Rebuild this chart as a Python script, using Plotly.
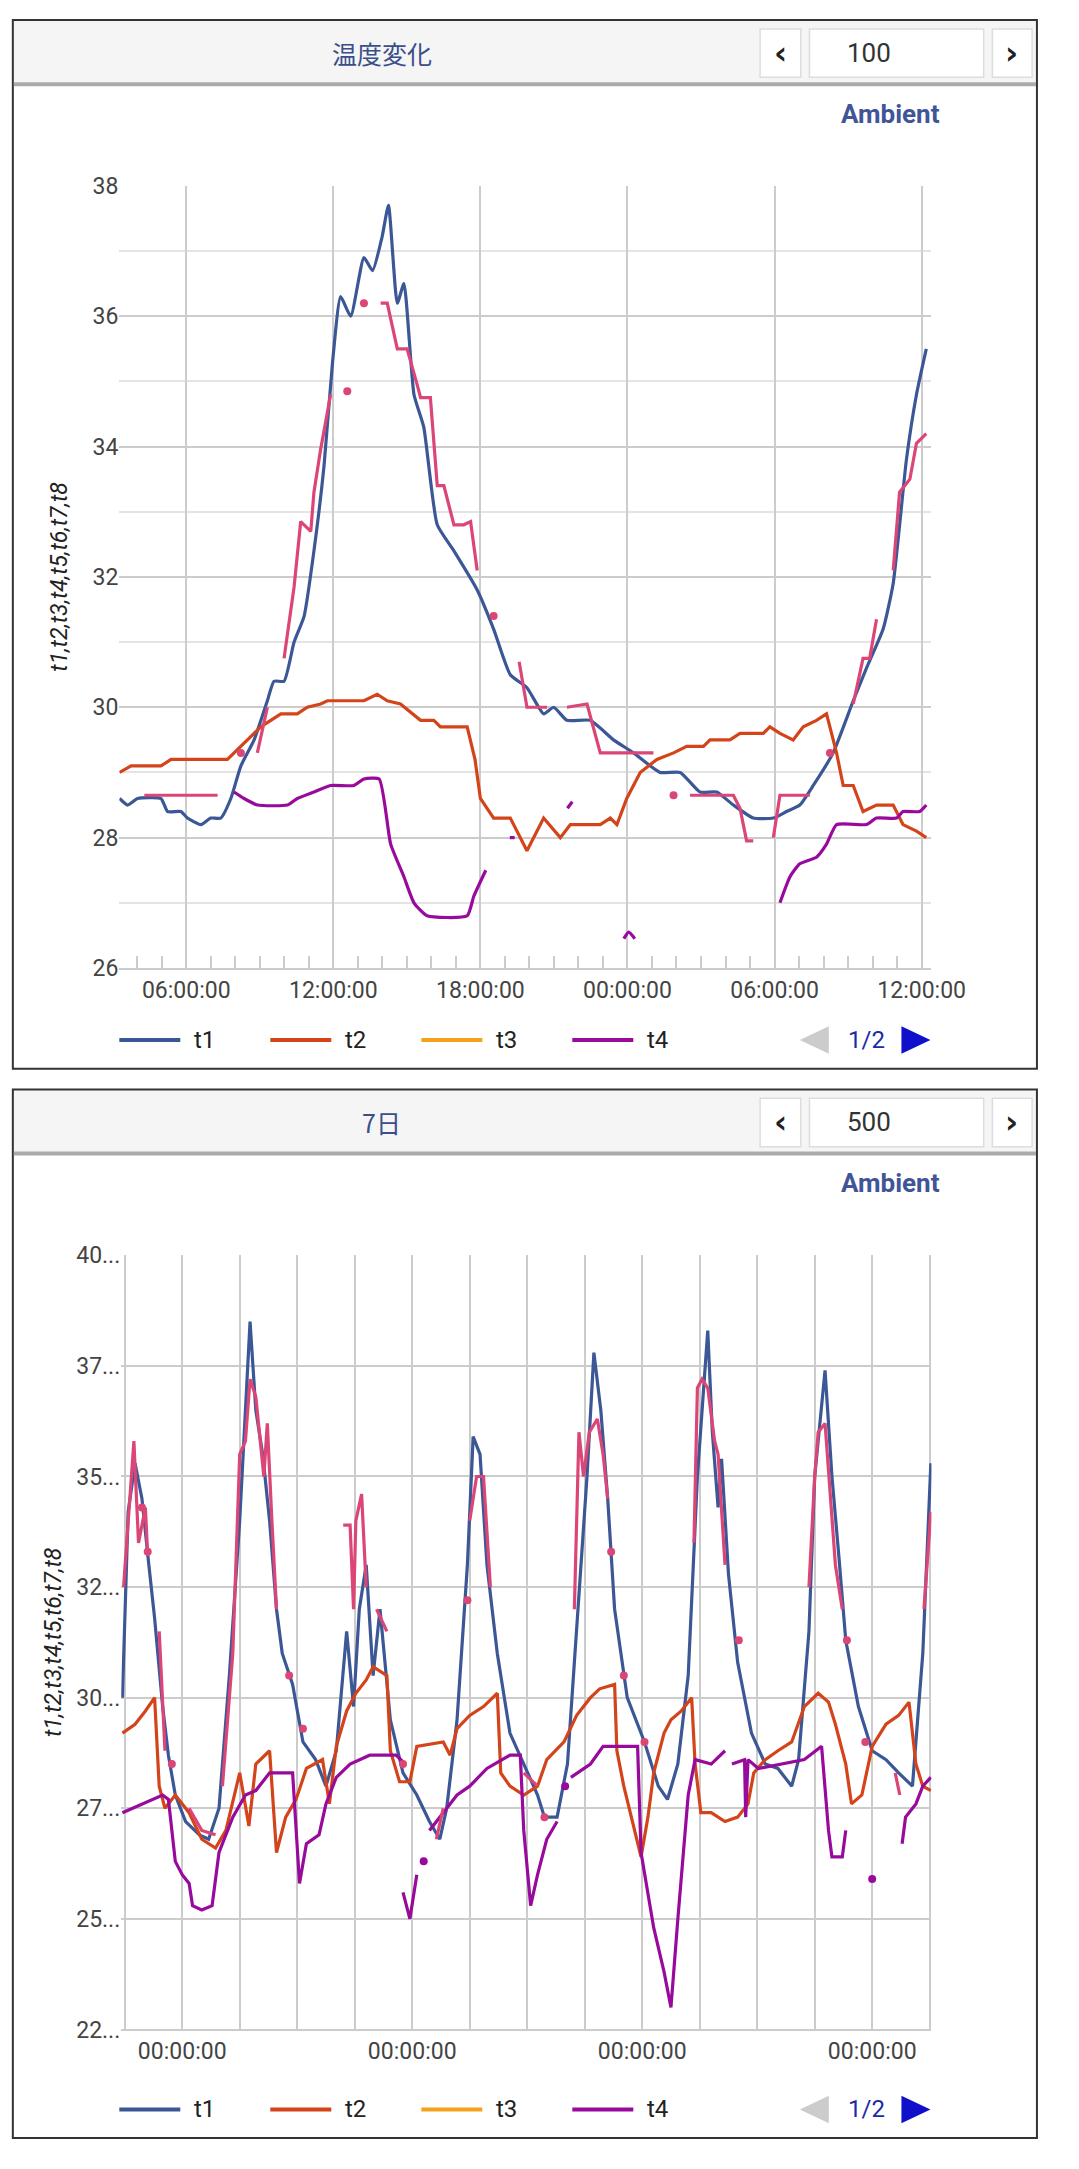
import plotly.graph_objects as go
import pandas as pd

N = None

# ---- top chart (hours from day start) ----
top_base = pd.Timestamp("2023-07-16 00:00")
t1_h = [3.28, 3.61, 4.02, 4.97, 5.24, 5.78, 6.05, 6.6, 7.0, 7.41, 7.82, 8.23, 8.77, 9.31, 9.58, 9.99, 10.4, 10.81, 11.21, 11.62,
        11.97, 12.3, 12.71, 13.25, 13.6, 13.98, 14.25, 14.61, 14.88, 15.29, 15.69, 16.24, 16.92, 17.87, 18.54, 19.22, 19.9, 20.58,
        20.99, 21.53, 22.48, 23.43, 24.25, 25.33, 26.15, 26.96, 27.64, 28.32, 29.13, 29.95, 30.49, 31.03, 31.58, 32.39, 33.21,
        33.75, 34.43, 34.84, 35.38, 35.79, 36.19]
t1_v = [28.6, 28.5, 28.6, 28.6, 28.4, 28.4, 28.3, 28.2, 28.3, 28.3, 28.6, 29.1, 29.5, 30.1, 30.4, 30.4, 31.0, 31.4, 32.4, 33.7,
        35.3, 36.3, 36.0, 36.9, 36.7, 37.2, 37.7, 36.2, 36.5, 34.8, 34.3, 32.8, 32.4, 31.8, 31.2, 30.5, 30.3, 29.9,
        30.0, 29.8, 29.8, 29.5, 29.3, 29.0, 29.0, 28.7, 28.7, 28.5, 28.3, 28.3, 28.4, 28.5, 28.8, 29.3, 30.1,
        30.6, 31.2, 31.9, 33.8, 34.8, 35.5]
t2_h = [3.28, 3.75, 4.97, 5.38, 7.68, 8.23, 9.04, 9.86, 10.53, 10.94, 11.48, 11.76, 13.25, 13.79, 14.2, 14.74, 15.56, 16.1,
        16.37, 17.46, 17.78, 18.0, 18.54, 19.22, 19.9, 20.58, 21.26, 21.67, 22.89, 23.3, 23.57, 23.97, 24.52, 25.2, 25.88,
        26.42, 27.1, 27.37, 28.18, 28.59, 29.54, 29.81, 30.22, 30.76, 31.17, 31.71, 32.12, 32.53, 32.8, 33.21, 33.61, 34.16,
        34.84, 35.24, 35.79, 36.19]
t2_v = [29.0, 29.1, 29.1, 29.2, 29.2, 29.4, 29.7, 29.9, 29.9, 30.0, 30.05, 30.1, 30.1, 30.2, 30.1, 30.05, 29.8, 29.8,
        29.7, 29.7, 29.2, 28.6, 28.3, 28.3, 27.8, 28.3, 28.0, 28.2, 28.2, 28.3, 28.2, 28.6, 29.0, 29.2, 29.3,
        29.4, 29.4, 29.5, 29.5, 29.6, 29.6, 29.7, 29.6, 29.5, 29.7, 29.8, 29.9, 29.3, 28.8, 28.8, 28.4, 28.5,
        28.5, 28.2, 28.1, 28.0]
t4_h = [7.95, 8.36, 8.91, 10.13, 10.53, 11.21, 11.89, 12.84, 13.25, 13.87, 14.34, 14.88, 15.29, 15.83, 17.46, 17.73, 18.22, N,
        19.2, 19.4, N, 21.55, 21.75, N, 23.85, 24.05, 24.3, N,
        30.22, 30.63, 31.03, 31.71, 32.12, 32.53, 33.75, 34.16, 34.98, 35.24, 35.92, 36.19]
t4_v = [28.7, 28.6, 28.5, 28.5, 28.6, 28.7, 28.8, 28.8, 28.9, 28.9, 27.9, 27.4, 27.0, 26.8, 26.8, 27.1, 27.5, N,
        28.0, 28.0, N, 28.45, 28.55, N, 26.45, 26.55, 26.45, N,
        27.0, 27.4, 27.6, 27.7, 27.9, 28.2, 28.2, 28.3, 28.3, 28.4, 28.4, 28.5]
t5_h = [4.29, 7.28, N, 8.9, 9.31, N, 9.99, 10.4, 10.67, 11.08, 11.21, 11.48, 11.89, N,
        13.93, 14.2, 14.61, 15.01, 15.42, 15.56, 15.96, 16.24, 16.51, 16.92, 17.32, 17.6, 17.87, N,
        19.58, 19.9, 20.72, N, 21.53, 22.35, 22.89, 25.06, N, 26.55, 28.32, 28.59, 28.86, 29.13, N,
        29.95, 30.22, 31.44, N, 33.21, 33.61, 33.88, 34.16, N, 34.84, 35.1, 35.52, 35.79, 36.19]
t5_v = [28.65, 28.65, N, 29.3, 30.0, N, 30.75, 31.85, 32.85, 32.7, 33.3, 33.95, 34.8, N,
        36.2, 36.2, 35.5, 35.5, 34.95, 34.75, 34.75, 33.4, 33.4, 32.8, 32.8, 32.85, 32.1, N,
        30.7, 30.0, 30.0, N, 30.0, 30.05, 29.3, 29.3, N, 28.65, 28.65, 28.45, 27.95, 27.95, N,
        28.0, 28.65, 28.65, N, 30.05, 30.75, 30.75, 31.35, N, 32.1, 33.3, 33.5, 34.05, 34.2]
t5_dot_h = [8.23, 12.57, 13.25, 18.54, 25.88, 32.26]
t5_dot_v = [29.3, 34.85, 36.2, 31.4, 28.65, 29.3]

# ---- bottom chart (days from first midnight) ----
bot_base = pd.Timestamp("2023-07-10 00:00")
b1_d = [-0.52, -0.47, -0.41, -0.35, -0.29, -0.24, -0.17, -0.12, -0.06, 0.03, 0.15, 0.23, 0.32, 0.41, 0.50, 0.55, 0.59, 0.64,
        0.70, 0.76, 0.82, 0.87, 0.96, 1.05, 1.16, 1.25, 1.34, 1.43, 1.49, 1.54, 1.60, 1.66, 1.72, 1.81, 1.92, 2.04, 2.15,
        2.24, 2.30, 2.39, 2.48, 2.53, 2.59, 2.65, 2.74, 2.85, 2.97, 3.09, 3.15, 3.26, 3.35, 3.43, 3.52, 3.58, 3.64, 3.70,
        3.76, 3.87, 4.02, 4.14, 4.22, 4.31, 4.40, 4.48, 4.54, 4.57, 4.61, 4.66, 4.69, 4.75, 4.83, 4.95, 5.07, 5.18, 5.30,
        5.36, 5.45, 5.50, 5.59, 5.65, 5.71, 5.77, 5.88, 6.00, 6.12, 6.23, 6.35, 6.44, 6.51]
b1_v = [30.0, 34.2, 35.3, 34.5, 33.0, 31.8, 29.8, 28.7, 27.8, 27.2, 26.9, 26.8, 27.5, 30.5, 34.0, 36.5, 38.5, 36.5,
        35.5, 34.0, 32.0, 31.0, 30.3, 29.0, 28.6, 28.0, 28.8, 31.5, 29.8, 32.0, 33.0, 30.5, 32.0, 29.5, 28.3, 27.8, 27.2,
        26.8, 27.5, 29.5, 33.0, 35.9, 35.5, 33.0, 31.0, 29.2, 28.5, 27.8, 27.3, 27.3, 28.5, 31.5, 35.0, 37.8, 36.5, 34.5,
        32.0, 30.0, 29.0, 28.0, 27.7, 28.5, 30.5, 35.0, 37.2, 38.3, 36.0, 34.3, 35.4, 32.8, 30.8, 29.2, 28.5, 28.4, 28.0,
        28.6, 31.5, 35.0, 37.4, 35.0, 33.2, 31.3, 29.8, 28.8, 28.6, 28.3, 28.0, 31.0, 35.3]
b2_d = [-0.52, -0.41, -0.32, -0.24, -0.20, -0.15, -0.06, 0.06, 0.17, 0.29, 0.38, 0.50, 0.58, 0.64, 0.76, 0.82, 0.90, 0.99,
        1.08, 1.22, 1.28, 1.34, 1.43, 1.51, 1.60, 1.66, 1.78, 1.81, 1.89, 1.98, 2.04, 2.27, 2.33, 2.39, 2.50, 2.62, 2.74,
        2.77, 2.85, 2.97, 3.09, 3.17, 3.32, 3.43, 3.55, 3.63, 3.76, 3.78, 3.84, 3.93, 3.99, 4.05, 4.10, 4.19, 4.25, 4.34,
        4.43, 4.46, 4.51, 4.60, 4.72, 4.83, 4.92, 4.97, 5.07, 5.18, 5.30, 5.41, 5.53, 5.62, 5.68, 5.77, 5.82, 5.91, 6.00,
        6.12, 6.23, 6.32, 6.38, 6.44, 6.51]
b2_v = [29.2, 29.4, 29.7, 30.0, 28.0, 27.5, 27.8, 27.4, 26.8, 26.6, 27.0, 28.3, 27.1, 28.5, 28.8, 26.5, 27.3, 27.7,
        28.4, 28.6, 27.6, 28.9, 29.7, 30.1, 30.4, 30.7, 30.5, 28.8, 28.1, 28.1, 28.9, 29.0, 28.7, 29.3, 29.6, 29.8, 30.1,
        28.3, 28.0, 27.8, 28.0, 28.6, 29.0, 29.6, 30.0, 30.2, 30.3, 28.8, 28.0, 27.0, 26.4, 27.3, 28.3, 29.2, 29.5, 29.7,
        30.0, 28.5, 27.4, 27.4, 27.2, 27.3, 27.6, 28.3, 28.6, 28.8, 29.0, 29.8, 30.1, 29.9, 29.4, 28.5, 27.6, 27.8, 28.9,
        29.4, 29.6, 29.9, 28.5, 28.0, 27.9]
b4_d = [-0.52, -0.35, -0.17, -0.12, -0.06, 0.0, 0.06, 0.09, 0.17, 0.26, 0.32, 0.44, 0.55, 0.64, 0.76, 0.96, 1.02, 1.08,
        1.19, 1.25, 1.34, 1.46, 1.63, 1.86, 1.92, N,
        1.92, 1.98, 2.04, N, 2.15, 2.39, 2.50, 2.65, 2.85, 2.94, 2.97, 3.03, 3.09, 3.17, 3.26, N,
        3.38, 3.55, 3.66, 3.96, 3.99, 4.10, 4.19, 4.25, 4.31, 4.40, 4.46, 4.60, 4.72, N, 4.78, 4.89, 4.90, 4.92, 5.01, 5.41,
        5.56, 5.62, 5.65, 5.74, 5.77, N, 6.26, 6.29, 6.38, 6.44, 6.51]
b4_v = [27.4, 27.6, 27.8, 27.7, 26.3, 26.0, 25.8, 25.3, 25.2, 25.3, 26.5, 27.3, 27.8, 27.9, 28.3, 28.3, 25.8, 26.7,
        26.9, 27.6, 28.2, 28.5, 28.7, 28.7, 28.55, N,
        25.6, 25.0, 26.0, N, 27.0, 27.8, 28.0, 28.4, 28.7, 28.7, 27.0, 25.3, 26.0, 26.8, 27.2, N,
        28.2, 28.5, 28.9, 28.9, 26.5, 24.8, 23.8, 23.0, 25.0, 27.8, 28.6, 28.5, 28.8, N, 28.5, 28.6, 27.3, 28.6, 28.4, 28.6,
        28.9, 27.0, 26.4, 26.4, 27.0, N, 26.7, 27.3, 27.6, 28.0, 28.2]
b4_dot_d = [2.10, 3.33, 6.00]
b4_dot_v = [26.3, 28.0, 25.9]
b5_d = [-0.51, -0.47, -0.42, -0.38, -0.32, -0.30, N, -0.20, -0.15, N, 0.06, 0.17, 0.29, N,
        0.35, 0.44, 0.50, 0.55, 0.59, 0.64, 0.71, 0.74, 0.78, 0.82, N,
        1.40, 1.46, 1.49, 1.51, 1.56, 1.60, N, 1.69, 1.78, N, 2.21, 2.27, N,
        2.50, 2.56, 2.62, 2.68, N, 2.97, 3.09, N,
        3.41, 3.45, 3.49, 3.54, 3.61, 3.66, 3.70, N,
        4.45, 4.48, 4.52, 4.57, 4.63, 4.66, 4.72, N,
        5.45, 5.50, 5.53, 5.59, 5.68, 5.74, N, 6.20, 6.24, N, 6.45, 6.51]
b5_v = [32.5, 34.0, 35.8, 33.5, 34.3, 33.2, N, 31.5, 28.8, N, 27.5, 27.0, 26.9, N,
        28.0, 31.0, 35.5, 35.8, 37.2, 36.8, 35.0, 36.2, 34.0, 32.0, N,
        33.9, 33.9, 32.0, 34.0, 34.6, 32.5, N, 32.0, 31.5, N, 26.8, 27.5, N,
        34.0, 35.0, 35.0, 32.5, N, 28.3, 28.0, N,
        32.0, 36.0, 35.0, 36.0, 36.3, 35.5, 34.5, N,
        33.5, 37.0, 37.2, 37.0, 35.8, 35.5, 33.0, N,
        32.5, 35.0, 36.0, 36.2, 33.0, 32.0, N, 28.3, 27.8, N, 32.0, 34.2]
b5_dot_d = [-0.35, -0.30, -0.09, 0.93, 1.05, 1.92, 2.48, 3.15, 3.73, 3.84, 4.02, 4.84, 5.78, 5.94]
b5_dot_v = [34.3, 33.3, 28.5, 30.5, 29.3, 28.5, 32.2, 27.3, 33.3, 30.5, 29.0, 31.3, 31.3, 29.0]

C1, C2, C3, C4, C5 = "#3b5796", "#d4441a", "#f4a11c", "#980a9c", "#db4677"
O = 8            # page body margin
W, H = 1061, 2151


def px(x):
    return (x - O) / W


def py(y):
    return 1 - (y - O) / H


def tx(base, vals, unit):
    return [None if v is None else base + pd.Timedelta(v, unit=unit) for v in vals]


fig = go.Figure()
lw = 3.2
top = [(t1_h, t1_v, C1, "spline"), (t2_h, t2_v, C2, "linear"), (t4_h, t4_v, C4, "spline"), (t5_h, t5_v, C5, "linear")]
for xs, ys, c, shp in top:
    fig.add_trace(go.Scatter(x=tx(top_base, xs, "h"), y=ys, mode="lines",
                             line=dict(color=c, width=lw, shape=shp, smoothing=0.5),
                             connectgaps=False, xaxis="x", yaxis="y", showlegend=False))
fig.add_trace(go.Scatter(x=tx(top_base, t5_dot_h, "h"), y=t5_dot_v, mode="markers", marker=dict(color=C5, size=8),
                         xaxis="x", yaxis="y", showlegend=False))
bot = [(b1_d, b1_v, C1), (b2_d, b2_v, C2), (b4_d, b4_v, C4), (b5_d, b5_v, C5)]
for xs, ys, c in bot:
    fig.add_trace(go.Scatter(x=tx(bot_base, xs, "D"), y=ys, mode="lines", line=dict(color=c, width=lw),
                             connectgaps=False, xaxis="x2", yaxis="y2", showlegend=False))
fig.add_trace(go.Scatter(x=tx(bot_base, b4_dot_d, "D"), y=b4_dot_v, mode="markers", marker=dict(color=C4, size=8),
                         xaxis="x2", yaxis="y2", showlegend=False))
fig.add_trace(go.Scatter(x=tx(bot_base, b5_dot_d, "D"), y=b5_dot_v, mode="markers", marker=dict(color=C5, size=8),
                         xaxis="x2", yaxis="y2", showlegend=False))

tickfont = dict(family="Roboto", size=23, color="#444")
grid = "#cccccc"
ytitle = dict(text="<i>t1,t2,t3,t4,t5,t6,t7,t8</i>", font=dict(family="Roboto", size=23, color="#222"))

top_lbl = [6, 12, 18, 24, 30, 36]
fig.update_layout(
    width=W, height=H, margin=dict(l=0, r=0, t=0, b=0), plot_bgcolor="white", paper_bgcolor="white",
    xaxis=dict(domain=[px(123), px(962)], anchor="y",
               range=[top_base + pd.Timedelta(3.27, unit="h"), top_base + pd.Timedelta(36.4, unit="h")],
               tickvals=tx(top_base, top_lbl, "h"), tickformat="%H:%M:%S", showgrid=True, gridcolor=grid,
               gridwidth=2, tickfont=tickfont, showline=True, linecolor=grid, linewidth=2,
               ticks="inside", ticklen=14, tickcolor=grid, tickwidth=2,
               minor=dict(dtick=3600000, ticks="inside", ticklen=12, tickcolor=grid, tickwidth=2, showgrid=False)),
    yaxis=dict(domain=[py(967), py(175)], anchor="x", range=[26, 38], dtick=2, showgrid=True,
               gridcolor=grid, gridwidth=2, tickfont=tickfont, zeroline=False,
               minor=dict(dtick=1, showgrid=True, gridcolor="#e4e4e4", gridwidth=2),
               title=dict(ytitle, standoff=18)),
    xaxis2=dict(domain=[px(125), px(962)], anchor="y2",
                range=[bot_base - pd.Timedelta(0.53, unit="D"), bot_base + pd.Timedelta(6.515, unit="D")],
                tickvals=tx(bot_base, [0, 2, 4, 6], "D"), tickformat="%H:%M:%S", showgrid=True, gridcolor=grid,
                gridwidth=2, tickfont=tickfont, showline=True, linecolor=grid, linewidth=2,
                minor=dict(dtick=43200000, showgrid=True, gridcolor=grid, gridwidth=2)),
    yaxis2=dict(domain=[py(2042), py(1258)], anchor="x2", range=[22.5, 40],
                tickvals=[22.5, 25, 27.5, 30, 32.5, 35, 37.5, 40],
                ticktext=["22...", "25...", "27...", "30...", "32...", "35...", "37...", "40..."],
                showgrid=True, gridcolor=grid, gridwidth=2, tickfont=tickfont, zeroline=False,
                title=dict(ytitle, standoff=8)),
)

shapes, ann = [], []


def tri(x_base, x_tip, yc, color):
    return dict(type="path", xref="paper", yref="paper",
                path=f"M {px(x_base)} {py(yc - 14)} L {px(x_base)} {py(yc + 14)} L {px(x_tip)} {py(yc)} Z",
                fillcolor=color, line=dict(width=0))


def panel(y0, title, num):
    # frame and header
    shapes.append(dict(type="rect", xref="paper", yref="paper", x0=px(13), x1=px(1071), y0=py(y0 + 1062),
                       y1=py(y0), line=dict(color="#333", width=2), fillcolor="rgba(0,0,0,0)"))
    shapes.append(dict(type="rect", xref="paper", yref="paper", x0=px(14), x1=px(1070), y0=py(y0 + 63),
                       y1=py(y0 + 1), line=dict(width=0), fillcolor="#f5f5f5", layer="below"))
    shapes.append(dict(type="line", xref="paper", yref="paper", x0=px(14), x1=px(1070), y0=py(y0 + 65),
                       y1=py(y0 + 65), line=dict(color="#aaa", width=4)))
    for a, b in [(785, 827), (836, 1016), (1025, 1066)]:
        shapes.append(dict(type="rect", xref="paper", yref="paper", x0=px(a), x1=px(b), y0=py(y0 + 58),
                           y1=py(y0 + 9), line=dict(color="#ddd", width=1.5), fillcolor="white"))
    cy = py(y0 + 33)
    ann.append(dict(x=px(394), y=cy, text=title, font=dict(family="Noto Sans CJK JP", size=25, color="#3a4e8a")))
    ann.append(dict(x=px(806), y=cy, text="<b>‹</b>", font=dict(family="DejaVu Sans", size=32, color="#222")))
    ann.append(dict(x=px(1045), y=cy, text="<b>›</b>", font=dict(family="DejaVu Sans", size=32, color="#222")))
    ann.append(dict(x=px(898), y=cy, text=num, font=dict(family="Roboto", size=26, color="#333")))
    ann.append(dict(x=px(920), y=py(y0 + 95), text="<b>Ambient</b>",
                    font=dict(family="Roboto", size=26, color="#3f5597")))
    ly = y0 + 1033
    for i, (name, c) in enumerate([("t1", C1), ("t2", C2), ("t3", C3), ("t4", C4)]):
        x0 = 123 + i * 156
        shapes.append(dict(type="line", xref="paper", yref="paper", x0=px(x0), x1=px(x0 + 63), y0=py(ly), y1=py(ly),
                           line=dict(color=c, width=4)))
        ann.append(dict(x=px(x0 + 75), y=py(ly), text=name, xanchor="left",
                        font=dict(family="Roboto", size=24, color="#222")))
    shapes.append(tri(856, 826, ly, "#cccccc"))
    shapes.append(tri(931, 961, ly, "#1010cc"))
    ann.append(dict(x=px(895), y=py(ly), text="1/2", font=dict(family="Roboto", size=24, color="#1b2aa8")))


panel(7, "温度変化", "100")
panel(1090, "7日", "500")
for a in ann:
    a.setdefault("xanchor", "center")
    a.update(xref="paper", yref="paper", showarrow=False, yanchor="middle")
fig.update_layout(shapes=shapes, annotations=ann)

fig.write_html("out.html")
